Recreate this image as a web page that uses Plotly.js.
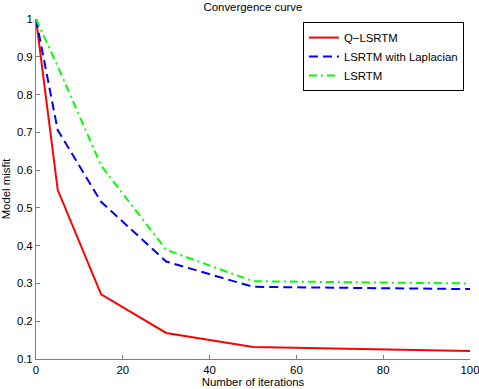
<!DOCTYPE html>
<html>
<head>
<meta charset="utf-8">
<script src="https://cdn.plot.ly/plotly-3.0.1.min.js"></script>
<style>html,body{margin:0;padding:0;background:#fff;}#chart{width:479px;height:389px;}</style>
</head>
<body>
<div id="chart"></div>
<script>
const iterations = [0, 5, 15, 30, 50, 100];
const qLsrtm = [1.0, 0.548, 0.271, 0.169, 0.132, 0.121];
const lsrtmLaplacian = [1.0, 0.706, 0.516, 0.358, 0.291, 0.285];
const lsrtm = [1.0, 0.875, 0.612, 0.389, 0.306, 0.300];
const seriesNames = ['Q\u2212LSRTM', 'LSRTM with Laplacian', 'LSRTM'];
const xTicks = [0, 20, 40, 60, 80, 100];
const yTicks = [0.1, 0.2, 0.3, 0.4, 0.5, 0.6, 0.7, 0.8, 0.9, 1];

const font = {family: 'Liberation Sans, Arial, Helvetica, sans-serif', size: 11.4, color: '#000'};

const traces = [
  {x: iterations, y: qLsrtm, name: seriesNames[0], mode: 'lines', line: {color: '#ff0000', width: 2, dash: 'solid'}},
  {x: iterations, y: lsrtmLaplacian, name: seriesNames[1], mode: 'lines', line: {color: '#0000ff', width: 2, dash: '9px,5px'}},
  {x: iterations, y: lsrtm, name: seriesNames[2], mode: 'lines', line: {color: '#00ff00', width: 2, dash: '8px,4px,2px,4px'}}
];

const axisCommon = {
  showgrid: false, zeroline: false, showline: true, linecolor: '#7f7f7f', linewidth: 1,
  ticks: 'inside', ticklen: 4, tickcolor: '#7f7f7f', tickwidth: 1, mirror: false,
  tickfont: font, automargin: false, ticklabeloverflow: 'allow'
};

const layout = {
  width: 479, height: 389,
  margin: {l: 36, r: 9, t: 19, b: 30},
  paper_bgcolor: '#fff', plot_bgcolor: '#fff',
  font: font,
  title: {text: 'Convergence curve', font: font, x: 0.528, xanchor: 'center', y: 0.982, yanchor: 'middle'},
  xaxis: Object.assign({}, axisCommon, {range: [0, 100], tickvals: xTicks, ticktext: xTicks.map(String),
    title: {text: 'Number of iterations', font: font, standoff: 2}}),
  yaxis: Object.assign({}, axisCommon, {range: [0.1, 1], tickvals: yTicks, ticktext: yTicks.map(String),
    title: {text: 'Model misfit', font: font, standoff: 4}}),
  showlegend: true,
  legend: {x: 0.615, y: 0.991, xanchor: 'left', yanchor: 'top', bgcolor: '#fff', bordercolor: '#000', borderwidth: 1, font: font, itemwidth: 30, entrywidth: 118, entrywidthmode: 'pixels'},
};

Plotly.newPlot('chart', traces, layout, {displayModeBar: false, staticPlot: true});
</script>
</body>
</html>
